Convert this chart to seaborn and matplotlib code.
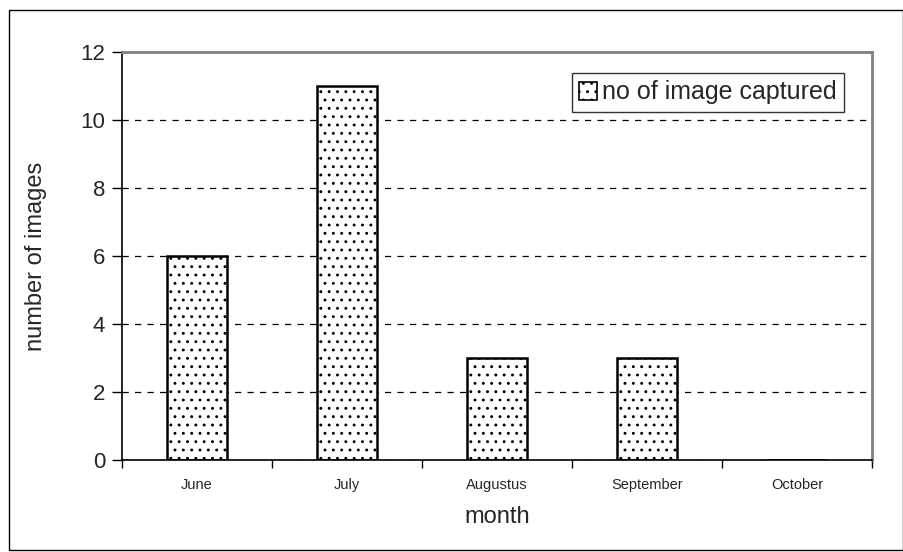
import matplotlib
matplotlib.use("Agg")
import matplotlib.pyplot as plt
from matplotlib.patches import Patch, Rectangle
from matplotlib.ticker import FixedLocator
import seaborn as sns
import pandas as pd

months = ["June", "July", "Augustus", "September", "October"]
images = [6, 11, 3, 3, 0]
series_label = "no of image captured"
y_ticks = [0, 2, 4, 6, 8, 10, 12]

sns.set_theme(style="white")
plt.rcParams["font.family"] = ["Liberation Sans", "DejaVu Sans"]
plt.rcParams["hatch.color"] = "#6e6e6e"
plt.rcParams["hatch.linewidth"] = 0.9

df = pd.DataFrame({"month": months, "images": images})

fig = plt.figure(figsize=(9.04, 5.52), dpi=100)
ax = fig.add_axes([122 / 904, 1 - 460 / 552, (872 - 122) / 904, (460 - 52) / 552])

sns.barplot(data=df, x="month", y="images", ax=ax, width=0.4,
            color="white", edgecolor="black", linewidth=1.8, saturation=1)
for bar in ax.patches:
    bar.set_hatch("..")

ax.set_xlim(-0.5, len(months) - 0.5)
ax.set_ylim(0, 12)
ax.set_yticks(y_ticks)
ax.yaxis.grid(True, linestyle=(0, (5, 5)), color="black", linewidth=0.9)
ax.set_axisbelow(True)

# category boundary ticks on the x axis
ax.xaxis.set_minor_locator(FixedLocator([i - 0.5 for i in range(len(months) + 1)]))
ax.tick_params(axis="x", which="major", length=0, labelsize=10.5, pad=13)
ax.tick_params(axis="x", which="minor", length=6, width=1, color="black",
               direction="out", bottom=True)
ax.tick_params(axis="y", which="major", length=7, width=1, color="black",
               direction="out", left=True, labelsize=16, pad=5)

for side in ("left", "bottom"):
    ax.spines[side].set_color("black")
    ax.spines[side].set_linewidth(1.2)
for side in ("top", "right"):
    ax.spines[side].set_visible(True)
    ax.spines[side].set_color("#808080")
    ax.spines[side].set_linewidth(2)

ax.set_xlabel("month", fontsize=17, labelpad=10)
ax.set_ylabel("number of images", fontsize=17, labelpad=24)

handle = Patch(facecolor="white", edgecolor="black", hatch="..", linewidth=1.2,
               label=series_label)
leg = ax.legend(handles=[handle], loc="upper right", fontsize=18,
                bbox_to_anchor=(844 / 904, 1 - 73 / 552), bbox_transform=fig.transFigure,
                frameon=True, fancybox=False, handlelength=0.7, handleheight=0.7,
                handletextpad=0.2, borderpad=0.3, borderaxespad=0)
leg.get_frame().set_edgecolor("black")
leg.get_frame().set_linewidth(1)

# outer chart frame
fig.patches.append(Rectangle((9 / 904, 2 / 552), 894 / 904, 540 / 552,
                             transform=fig.transFigure, fill=False,
                             edgecolor="black", linewidth=1))

fig.savefig("out.png", dpi=100)
